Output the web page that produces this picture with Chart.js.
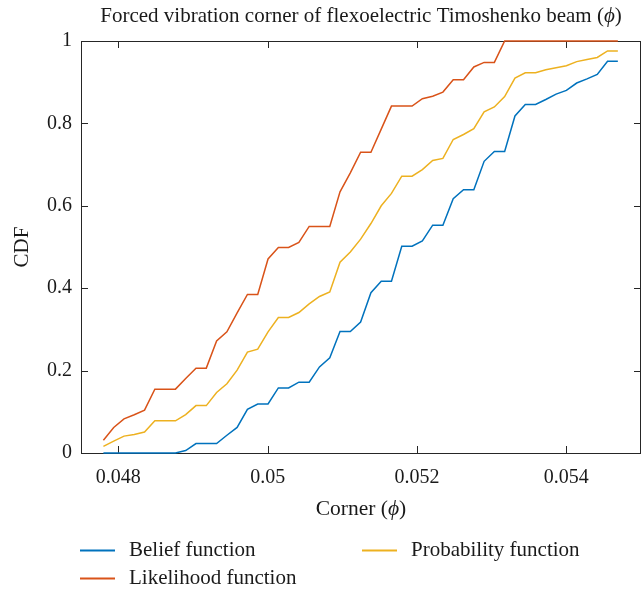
<!DOCTYPE html>
<html>
<head>
<meta charset="utf-8">
<script src="https://cdn.jsdelivr.net/npm/chart.js@4/dist/chart.umd.min.js"></script>
<style>
  html, body { margin: 0; padding: 0; background: #fff; }
  #wrap { width: 642px; height: 593px; }
</style>
</head>
<body>
<div id="wrap"><canvas id="cdfChart" width="642" height="593"></canvas></div>
<script>
// Corner values (phi) where the CDFs were sampled
const cornerValues = [
  0.047800, 0.047938, 0.048076, 0.048213, 0.048351, 0.048489, 0.048627, 0.048765, 0.048902, 0.049040,
  0.049178, 0.049316, 0.049454, 0.049591, 0.049729, 0.049867, 0.050005, 0.050143, 0.050280, 0.050418,
  0.050556, 0.050694, 0.050832, 0.050969, 0.051107, 0.051245, 0.051383, 0.051521, 0.051658, 0.051796,
  0.051934, 0.052072, 0.052210, 0.052347, 0.052485, 0.052623, 0.052761, 0.052899, 0.053036, 0.053174,
  0.053312, 0.053450, 0.053588, 0.053725, 0.053863, 0.054001, 0.054139, 0.054277, 0.054414, 0.054552,
  0.054690
];

const beliefCdf = [
  0, 0, 0, 0, 0, 0, 0, 0, 0.006, 0.023,
  0.023, 0.023, 0.043, 0.062, 0.106, 0.119, 0.119, 0.158, 0.158, 0.172,
  0.172, 0.209, 0.231, 0.295, 0.295, 0.318, 0.389, 0.417, 0.417, 0.502,
  0.502, 0.515, 0.553, 0.553, 0.617, 0.639, 0.639, 0.708, 0.732, 0.732,
  0.818, 0.846, 0.846, 0.858, 0.871, 0.880, 0.898, 0.908, 0.919, 0.951,
  0.951
];

const likelihoodCdf = [
  0.031, 0.062, 0.083, 0.093, 0.104, 0.155, 0.155, 0.155, 0.181, 0.206,
  0.206, 0.272, 0.294, 0.340, 0.385, 0.385, 0.471, 0.499, 0.499, 0.511,
  0.550, 0.550, 0.550, 0.634, 0.680, 0.730, 0.730, 0.786, 0.842, 0.842,
  0.842, 0.860, 0.866, 0.876, 0.906, 0.906, 0.937, 0.948, 0.948, 1,
  1, 1, 1, 1, 1, 1, 1, 1, 1, 1,
  1
];

const probabilityCdf = [
  0.016, 0.029, 0.041, 0.045, 0.051, 0.078, 0.078, 0.078, 0.093, 0.115,
  0.115, 0.147, 0.168, 0.201, 0.245, 0.252, 0.294, 0.329, 0.329, 0.341,
  0.362, 0.380, 0.391, 0.463, 0.488, 0.519, 0.557, 0.600, 0.630, 0.672,
  0.672, 0.688, 0.710, 0.715, 0.761, 0.773, 0.787, 0.828, 0.840, 0.865,
  0.910, 0.923, 0.923, 0.930, 0.935, 0.940, 0.950, 0.955, 0.960, 0.976,
  0.976
];

const xTicks = [0.048, 0.05, 0.052, 0.054];
const yTicks = [0, 0.2, 0.4, 0.6, 0.8, 1];

const SERIF = '"Liberation Serif", "DejaVu Serif", serif';
const TEXT = '#1a1a1a';
const AXIS = '#262626';

function toPoints(ys) {
  return ys.map((y, i) => ({ x: cornerValues[i], y }));
}

// draws a string where the phi is italic
function drawMixed(ctx, parts, cx, cy, size) {
  let total = 0;
  parts.forEach(p => {
    ctx.font = (p.italic ? 'italic ' : '') + size + 'px ' + SERIF;
    p.w = ctx.measureText(p.t).width;
    total += p.w;
  });
  let x = cx - total / 2;
  parts.forEach(p => {
    ctx.font = (p.italic ? 'italic ' : '') + size + 'px ' + SERIF;
    ctx.fillText(p.t, x, cy);
    x += p.w;
  });
}

const framePlugin = {
  id: 'frame',
  beforeDatasetsDraw(chart) {
    const { ctx, chartArea: a, scales } = chart;
    ctx.save();
    ctx.strokeStyle = AXIS;
    ctx.lineWidth = 1;
    ctx.strokeRect(a.left + 0.5, a.top + 0.5, a.right - a.left - 1, a.bottom - a.top);
    ctx.beginPath();
    xTicks.forEach(v => {
      const px = Math.round(scales.x.getPixelForValue(v)) + 0.5;
      ctx.moveTo(px, a.bottom); ctx.lineTo(px, a.bottom - 7);
      ctx.moveTo(px, a.top); ctx.lineTo(px, a.top + 7);
    });
    yTicks.forEach(v => {
      const py = Math.round(scales.y.getPixelForValue(v)) + 0.5;
      ctx.moveTo(a.left, py); ctx.lineTo(a.left + 7, py);
      ctx.moveTo(a.right, py); ctx.lineTo(a.right - 7, py);
    });
    ctx.stroke();
    ctx.restore();
  },
  afterDraw(chart) {
    const { ctx, chartArea: a } = chart;
    const mid = (a.left + a.right) / 2;
    ctx.save();
    ctx.fillStyle = TEXT;
    ctx.textBaseline = 'middle';
    ctx.textAlign = 'left';

    // title
    drawMixed(ctx, [
      { t: 'Forced vibration corner of flexoelectric Timoshenko beam (' },
      { t: '\u03D5', italic: true },
      { t: ')' }
    ], mid, 16, 21);

    // x axis label
    drawMixed(ctx, [{ t: 'Corner (' }, { t: '\u03D5', italic: true }, { t: ')' }], mid, 509, 21.5);

    // y axis label
    ctx.save();
    ctx.translate(22, (a.top + a.bottom) / 2);
    ctx.rotate(-Math.PI / 2);
    ctx.textAlign = 'center';
    ctx.font = '21px ' + SERIF;
    ctx.fillText('CDF', 0, 0);
    ctx.restore();

    // legend, two columns
    const items = [
      { ds: 0, x: 80, y: 550 },
      { ds: 2, x: 362, y: 550 },
      { ds: 1, x: 80, y: 578 }
    ];
    ctx.font = '21px ' + SERIF;
    items.forEach(it => {
      const ds = chart.data.datasets[it.ds];
      ctx.strokeStyle = ds.borderColor;
      ctx.lineWidth = 2;
      ctx.beginPath();
      ctx.moveTo(it.x, it.y + 0.5);
      ctx.lineTo(it.x + 35, it.y + 0.5);
      ctx.stroke();
      ctx.fillText(ds.label, it.x + 49, it.y);
    });
    ctx.restore();
  }
};

const tickFont = { family: SERIF, size: 20 };

new Chart(document.getElementById('cdfChart').getContext('2d'), {
  type: 'line',
  data: {
    datasets: [
      { label: 'Belief function', data: toPoints(beliefCdf), borderColor: '#0072BD' },
      { label: 'Likelihood function', data: toPoints(likelihoodCdf), borderColor: '#D95319' },
      { label: 'Probability function', data: toPoints(probabilityCdf), borderColor: '#EDB120' }
    ]
  },
  options: {
    responsive: false,
    animation: false,
    devicePixelRatio: 1,
    layout: { padding: { top: 41, right: 1, left: 0, bottom: 0 } },
    elements: {
      line: { borderWidth: 1.5, tension: 0, fill: false },
      point: { radius: 0, hoverRadius: 0 }
    },
    datasets: { line: { clip: 4 } },
    plugins: { legend: { display: false }, tooltip: { enabled: false }, title: { display: false } },
    scales: {
      x: {
        type: 'linear',
        min: 0.0475,
        max: 0.055,
        grid: { display: false, drawTicks: false },
        border: { display: false },
        ticks: { font: tickFont, color: TEXT, padding: 13, callback: v => String(v) },
        afterBuildTicks: scale => { scale.ticks = xTicks.map(v => ({ value: v })); },
        afterFit: scale => { scale.height = 140; }
      },
      y: {
        min: 0,
        max: 1,
        grid: { display: false, drawTicks: false },
        border: { display: false },
        ticks: { font: tickFont, color: TEXT, padding: 9, callback: v => String(v) },
        afterBuildTicks: scale => { scale.ticks = yTicks.map(v => ({ value: v })); },
        afterFit: scale => { scale.width = 81; }
      }
    }
  },
  plugins: [framePlugin]
});
</script>
</body>
</html>
